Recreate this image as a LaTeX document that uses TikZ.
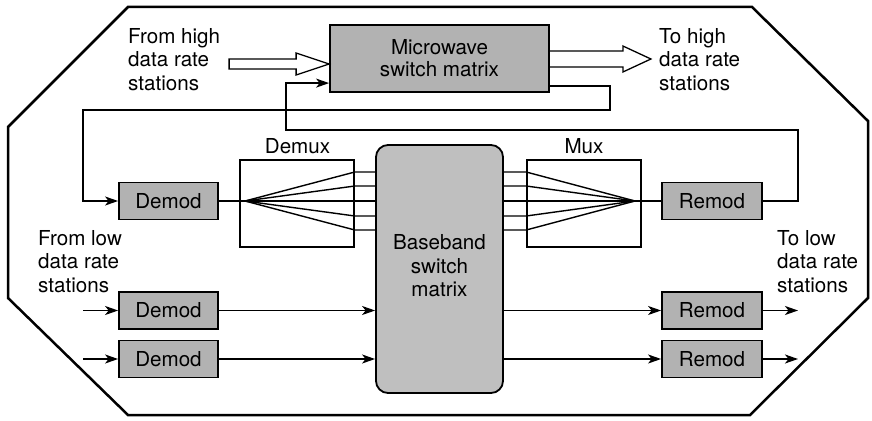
\documentclass[tikz,border=0pt]{standalone}
\usepackage{fontspec}
\setmainfont{TeX Gyre Heros}
\usetikzlibrary{arrows.meta,calc}
\begin{document}
\begin{tikzpicture}[x=1pt,y=-1pt,
  every node/.style={font=\fontsize{20.6}{23.5}\selectfont},
  box/.style={draw,line width=1.8pt,fill=black!30,inner sep=0pt,minimum width=99pt,minimum height=37pt},
  muxbox/.style={draw,line width=1.6pt,fill=white,inner sep=0pt,minimum width=114pt,minimum height=87pt},
  lbl/.style={align=left,anchor=north west,inner sep=0pt},
  conn/.style={line width=1.4pt},
  arr/.style={conn,-{Stealth[length=13pt,width=9pt,inset=3.5pt]}},
  hollow/.style={line width=1.3pt,line join=miter}]
\useasboundingbox (0,0) rectangle (872,420);
% octagon frame
\draw[line width=2.5pt,line join=miter] (128,7) -- (752,7) -- (868,121) -- (868,298) -- (750,415) -- (128,415) -- (8,298) -- (8,127) -- cycle;

% main blocks
\node[box,minimum width=219pt,minimum height=67pt,align=center,font=\fontsize{20.6}{22}\selectfont] (mw) at (439.5,58.5) {Microwave\\switch matrix};
\node[draw,line width=1.8pt,fill=black!25,rounded corners=12pt,minimum width=127pt,minimum height=248pt,inner sep=0pt] (bb) at (439.5,269) {};
\node[align=center,inner sep=0pt] (bbtext) at (439.5,266) {Baseband\\switch\\matrix};

\node[muxbox] (demux) at (297,203.5) {};
\node[muxbox] (mux) at (584,203.5) {};
\node[inner sep=0pt] (demuxl) at (297.5,146) {Demux};
\node[inner sep=0pt] (muxl) at (584,146) {Mux};

\node[box] (dm1) at (168.5,201) {Demod};
\node[box] (dm2) at (168.5,310.5) {Demod};
\node[box] (dm3) at (168.5,359) {Demod};
\node[box,minimum width=100pt] (rm1) at (712,201) {Remod};
\node[box,minimum width=100pt] (rm2) at (712,310.5) {Remod};
\node[box,minimum width=100pt] (rm3) at (712,359) {Remod};

% labels
\node[lbl] (fhigh) at (128,28) {From high\\data rate\\stations};
\node[lbl] (thigh) at (659,28) {To high\\data rate\\stations};
\node[lbl] (flow) at (38,230) {From low\\data rate\\stations};
\node[lbl] (tlow) at (777,230) {To low\\data rate\\stations};

% hollow arrows
\coordinate (hin) at ($(mw.west)+(0,5.5)$);
\draw[hollow,fill=white] ($(hin)+(-100,-5)$) -- ($(hin)+(-33,-5)$) -- ($(hin)+(-33,-11)$) -- (hin)
  -- ($(hin)+(-33,11)$) -- ($(hin)+(-33,5)$) -- ($(hin)+(-100,5)$) -- cycle;
\coordinate (hout) at ($(mw.east)+(0,0.5)$);
\draw[hollow] (hout) ++(0,-8) -- ++(73,0) -- ++(0,-5) -- ($(hout)+(101,0)$)
  -- ($(hout)+(73,13)$) -- ++(0,-5) -- ($(hout)+(0,8)$);

% demux fan
\coordinate (fanL) at (245,201);
\coordinate (fanR) at (635,201);
\draw[conn] (dm1.east) -- (fanL);
\foreach \dy in {-29,-15,0,15,29}{
  \draw[conn] (fanL) -- ($(demux.east)+(0,\dy-2.5)$) coordinate (dq) -- (bb.west |- dq);
  \draw[conn] (bb.east |- dq) -- ($(mux.west)+(0,\dy-2.5)$) -- (fanR);
}
\draw[conn] (fanR) -- (rm1.west);

% low rate paths
\coordinate (in2) at (83,310.5);
\coordinate (in3) at (83,359);
\coordinate (out2) at (798,310.5);
\coordinate (out3) at (798,359);
\draw[arr] (in2) -- (dm2.west);
\draw[arr] (in3) -- (dm3.west);
\draw[arr] (dm2.east) -- (bb.west |- dm2.east);
\draw[arr] (dm3.east) -- (bb.west |- dm3.east);
\draw[arr] (bb.east |- rm2.west) -- (rm2.west);
\draw[arr] (bb.east |- rm3.west) -- (rm3.west);
\draw[arr] (rm2.east) -- (out2);
\draw[arr] (rm3.east) -- (out3);

% loop A: microwave -> demod
\coordinate (a1) at ($(mw.south east)+(0,-7)$);
\coordinate (aR) at (610,110);
\coordinate (aL) at (83,110);
\draw[arr] (a1) -| (aR) -- (aL) |- (dm1.west);

% loop B: remod -> microwave
\coordinate (bR) at (798,130);
\coordinate (bL) at (286,130);
\coordinate (b1) at ($(mw.north west)+(0,59)$);
\draw[arr] (rm1.east) -| (bR) -- (bL) |- (b1);
\end{tikzpicture}
\end{document}
